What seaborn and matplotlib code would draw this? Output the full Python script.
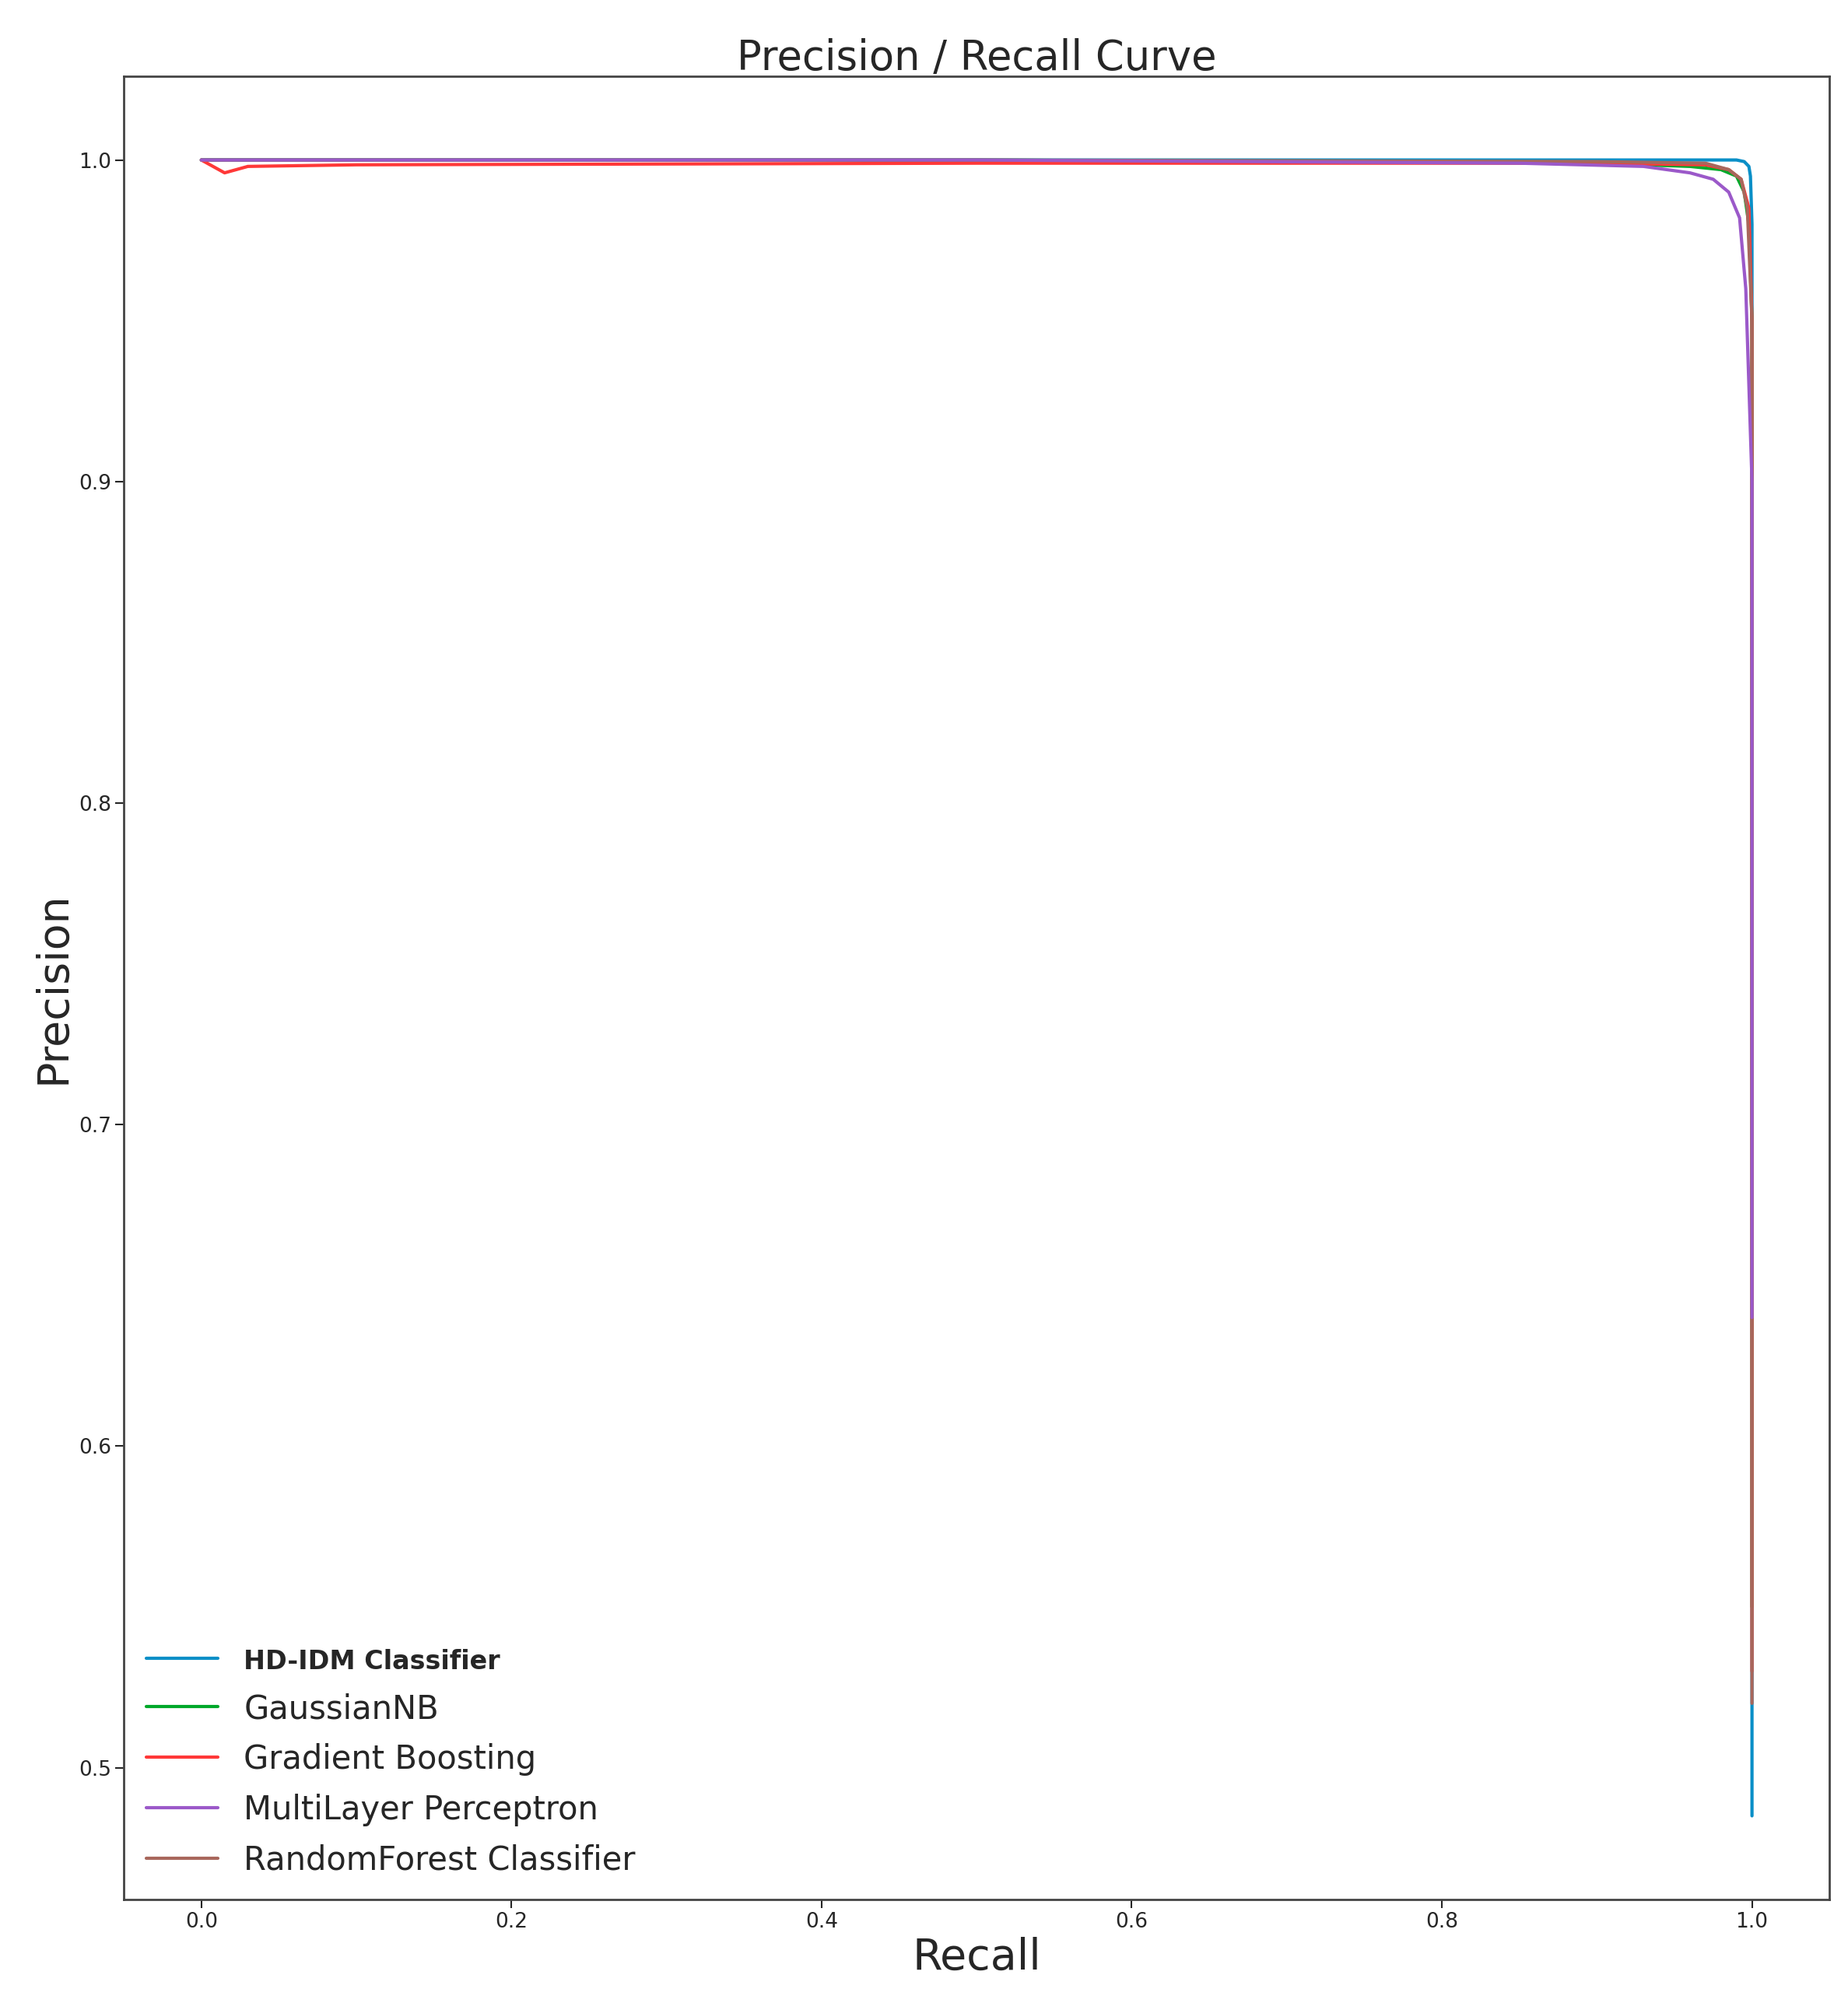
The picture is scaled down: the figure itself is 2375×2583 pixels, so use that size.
import pandas as pd
import numpy as np
import matplotlib.pyplot as plt
import seaborn as sns

# Approximate points
models = ["HD-IDM Classifier", "GaussianNB", "Gradient Boosting",
          "MultiLayer Perceptron", "RandomForest Classifier"]

hd_recall = [0.0, 0.5, 0.9, 0.98, 0.99, 0.995, 0.998, 0.999, 1.0, 1.0, 1.0]
hd_prec = [1.0, 1.0, 1.0, 1.0, 1.0, 0.9995, 0.998, 0.995, 0.98, 0.64, 0.485]

gnb_recall = [0.0, 0.5, 0.9, 0.96, 0.98, 0.99, 0.995, 0.998, 1.0, 1.0]
gnb_prec = [1.0, 1.0, 0.999, 0.998, 0.997, 0.995, 0.99, 0.98, 0.95, 0.55]

gb_recall = [0.0, 0.015, 0.03, 0.1, 0.5, 0.9, 0.97, 0.985, 0.993, 0.998, 1.0, 1.0]
gb_prec = [1.0, 0.996, 0.998, 0.9985, 0.999, 0.999, 0.9985, 0.997, 0.994, 0.985, 0.95, 0.53]

mlp_recall = [0.0, 0.5, 0.85, 0.93, 0.96, 0.975, 0.985, 0.992, 0.996, 1.0, 1.0]
mlp_prec = [1.0, 1.0, 0.999, 0.998, 0.996, 0.994, 0.99, 0.982, 0.96, 0.9, 0.64]

rf_recall = [0.0, 0.5, 0.9, 0.97, 0.985, 0.993, 0.997, 1.0, 1.0]
rf_prec = [1.0, 1.0, 0.9995, 0.999, 0.997, 0.994, 0.985, 0.95, 0.52]

colors = ["#0a8fc7", "#00a82a", "#ff3838", "#9b59c9", "#a8675c"]

series = [(hd_recall, hd_prec), (gnb_recall, gnb_prec), (gb_recall, gb_prec),
          (mlp_recall, mlp_prec), (rf_recall, rf_prec)]
frames = []
for name, (r, p) in zip(models, series):
    frames.append(pd.DataFrame({"recall": r, "precision": p, "model": name}))
data = pd.concat(frames, ignore_index=True)

sns.set_style("white")
fig, ax = plt.subplots(figsize=(23.75, 25.83), dpi=100)
plt.subplots_adjust(left=0.067, right=0.99, top=0.962, bottom=0.055)

# HD-IDM first, MLP last so purple sits on top like the reference
draw_order = [0, 1, 2, 4, 3]
for i in draw_order:
    name, color = models[i], colors[i]
    sns.lineplot(data=data[data["model"] == name], x="recall", y="precision",
                 sort=False, color=color, linewidth=3, label=name, ax=ax,
                 estimator=None)

ax.set_xlim(-0.05, 1.05)
ax.set_ylim(0.459, 1.026)
ax.set_xticks([0.0, 0.2, 0.4, 0.6, 0.8, 1.0])
ax.set_yticks([0.5, 0.6, 0.7, 0.8, 0.9, 1.0])
ax.tick_params(labelsize=19, length=8, width=1.5, left=True, bottom=True)
for s in ax.spines.values():
    s.set_color("#444444")
    s.set_linewidth(2)

ax.set_title("Precision / Recall Curve", fontsize=38)
ax.set_xlabel("Recall", fontsize=40)
ax.set_ylabel("Precision", fontsize=40)

handles, labels = ax.get_legend_handles_labels()
order = [labels.index(m) for m in models]
leg = ax.legend([handles[i] for i in order], [labels[i] for i in order],
                loc="lower left", fontsize=30, frameon=False, handlelength=2.2,
                labelspacing=0.55, borderaxespad=0.3)
leg.get_texts()[0].set_fontweight("bold")
leg.get_texts()[0].set_fontsize(24)

plt.savefig("out.png")
